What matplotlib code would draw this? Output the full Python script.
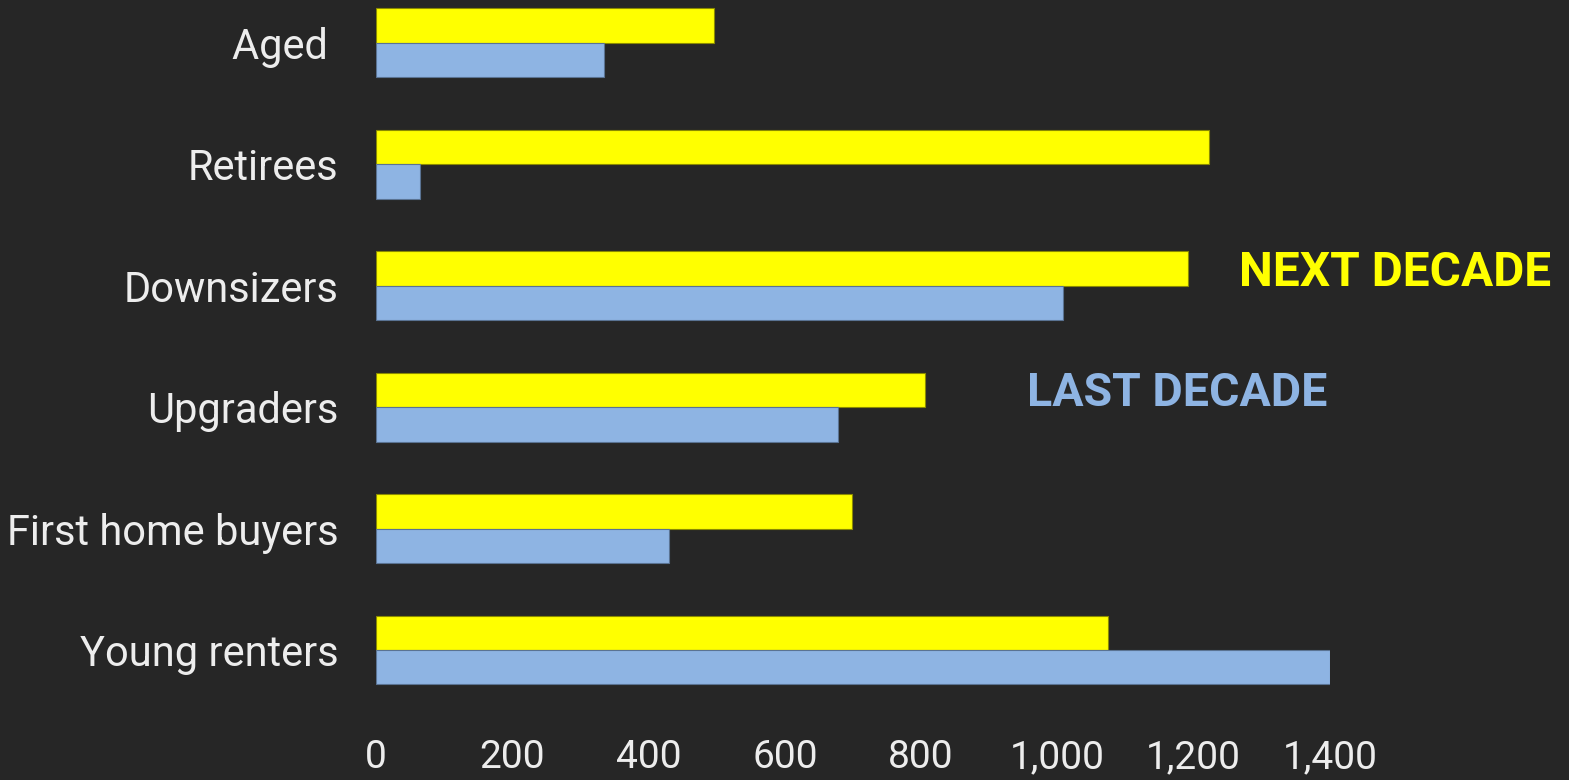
import matplotlib.pyplot as plt
import numpy as np

categories = ['Young renters', 'First home buyers', 'Upgraders', 'Downsizers', 'Retirees', 'Aged ']
next_decade = [1074, 699, 806, 1192, 1222, 496]
last_decade = [1400, 430, 678, 1008, 64, 335]
xticks = [0, 200, 400, 600, 800, 1000, 1200, 1400]

bg = '#262626'
yellow = '#FFFF00'
blue = '#8EB4E3'
txt = '#EDEDED'
font = 'Roboto'

fig = plt.figure(figsize=(15.69, 7.80), dpi=100, facecolor=bg)
ax = fig.add_axes([376/1569, 1 - 700/780, (1330 - 376)/1569, 700/780])
ax.set_facecolor(bg)

y = np.arange(len(categories))
h = 0.284
ax.barh(y + h/2, next_decade, height=h, color=yellow, edgecolor='#8a8a00', linewidth=0.8)
ax.barh(y - h/2, last_decade, height=h, color=blue, edgecolor='#5a7393', linewidth=0.8)

ax.set_xlim(0, 1400)
ax.set_ylim(-0.412, 5.354)
ax.set_xticks(xticks)
ax.set_xticklabels([f'{v:,}' for v in xticks], fontsize=28, color=txt, family=font)
ax.set_yticks(y)
ax.set_yticklabels(categories, fontsize=30, color=txt, family=font)
ax.tick_params(axis='x', length=0, pad=28)
ax.tick_params(axis='y', length=0, pad=27)
for s in ax.spines.values():
    s.set_visible(False)

fig.text(1239/1569, 1 - 286/780, 'NEXT DECADE', color=yellow, fontsize=34.5,
         fontweight='bold', family=font, va='baseline', ha='left')
fig.text(1027/1569, 1 - 406/780, 'LAST DECADE', color=blue, fontsize=33.5,
         fontweight='bold', family=font, va='baseline', ha='left')

fig.savefig('out.png', dpi=100, facecolor=bg)
